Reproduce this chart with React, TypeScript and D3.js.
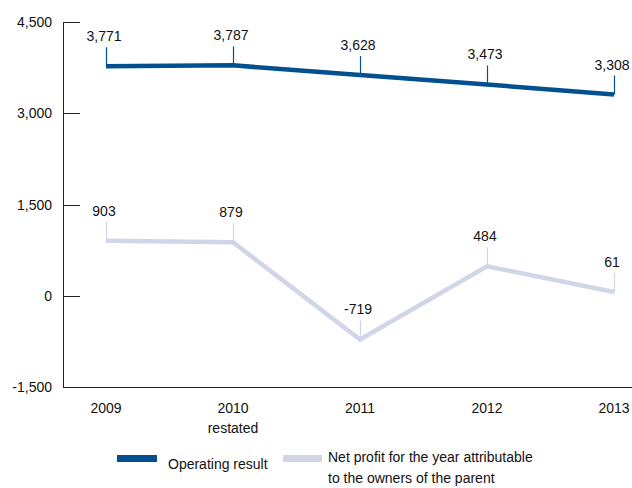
import React from "react";
import * as d3 from "d3";

const years = ["2009", "2010", "2011", "2012", "2013"];
const yearSub = ["", "restated", "", "", ""];
const operatingResult = [3771, 3787, 3628, 3473, 3308];
const netProfit = [903, 879, -719, 484, 61];
const yTicks = [4500, 3000, 1500, 0, -1500];
const seriesNames = ["Operating result", "Net profit for the year attributable|to the owners of the parent"];
const colors = ["#02508f", "#d0d5e7"];

const W = 632;
const H = 488;
const FONT = "'Liberation Sans', Arial, sans-serif";
const FS = 14;

export default function App() {
  const x = d3.scalePoint<string>().domain(years).range([106, 614]);
  const y = d3.scaleLinear().domain([-1500, 4500]).range([387, 22]);
  const f = d3.format(",");
  const fmt = (v: number) => f(v).replace("\u2212", "-");
  const line = d3
    .line<number>()
    .x((_, i) => x(years[i]) as number)
    .y((d) => y(d));

  const series = [operatingResult, netProfit];

  return (
    <div style={{ position: "absolute", left: 0, top: 0 }}>
      <svg width={W} height={H} style={{ display: "block", fontFamily: FONT }}>
        <rect width={W} height={H} fill="#fff" />
        {/* y axis */}
        <line x1={63.5} x2={63.5} y1={y(4500)} y2={y(-1500)} stroke="#222" strokeWidth={1} />
        <line x1={63} x2={W} y1={y(-1500) + 0.5} y2={y(-1500) + 0.5} stroke="#222" strokeWidth={1} />
        {yTicks.map((t) => (
          <g key={t}>
            {t !== -1500 && (
              <line x1={63} x2={80} y1={Math.round(y(t)) + 0.5} y2={Math.round(y(t)) + 0.5} stroke="#222" strokeWidth={1} />
            )}
            <text x={52} y={y(t) + 5} textAnchor="end" fontSize={FS} fill="#111">
              {fmt(t)}
            </text>
          </g>
        ))}
        {/* x labels */}
        {years.map((yr, i) => (
          <g key={yr}>
            <text x={x(yr)} y={413} textAnchor="middle" fontSize={FS} fill="#111">
              {yr}
            </text>
            {yearSub[i] && (
              <text x={x(yr)} y={433} textAnchor="middle" fontSize={FS} fill="#111">
                {yearSub[i]}
              </text>
            )}
          </g>
        ))}
        {/* series */}
        {series.map((s, si) => (
          <g key={si}>
            <path d={line(s) || ""} fill="none" stroke={colors[si]} strokeWidth={4.5} strokeLinejoin="miter" />
            {s.map((v, i) => {
              const px = x(years[i]) as number;
              const py = y(v);
              const top = py - 19;
              return (
                <g key={i}>
                  <line x1={px + 0.5} x2={px + 0.5} y1={top} y2={py} stroke={colors[si]} strokeWidth={1.2} />
                  <text x={px - 2} y={top - 6} textAnchor="middle" fontSize={FS} fill="#111">
                    {fmt(v)}
                  </text>
                </g>
              );
            })}
          </g>
        ))}
        {/* legend */}
        <rect x={117} y={455} width={40} height={7} fill={colors[0]} />
        <text x={168} y={469} fontSize={FS} fill="#111">
          {seriesNames[0]}
        </text>
        <rect x={283} y={455} width={39} height={7} fill={colors[1]} />
        {seriesNames[1].split("|").map((ln, i) => (
          <text key={i} x={328} y={462 + i * 21} fontSize={FS} fill="#111">
            {ln}
          </text>
        ))}
      </svg>
    </div>
  );
}
